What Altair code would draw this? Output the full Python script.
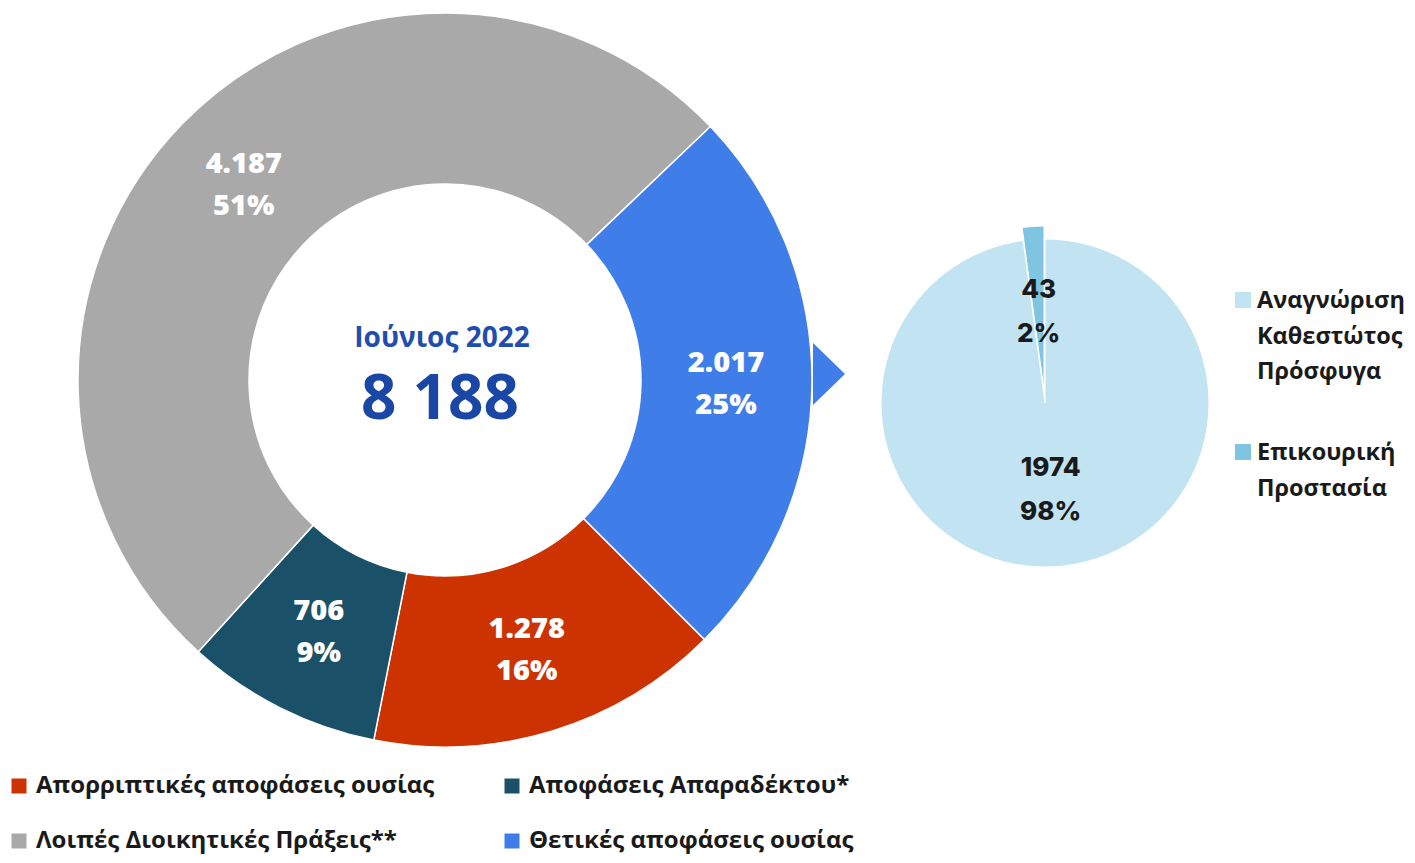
import math
import altair as alt
import pandas as pd

# ---------------- data ----------------
categories = ["Απορριπτικές αποφάσεις ουσίας", "Αποφάσεις Απαραδέκτου*",
              "Λοιπές Διοικητικές Πράξεις**", "Θετικές αποφάσεις ουσίας"]
values = [1278, 706, 4187, 2017]
value_labels = ["1.278", "706", "4.187", "2.017"]
pct_labels = ["16%", "9%", "51%", "25%"]
colors = ["#CC3300", "#1B5168", "#A9A9A9", "#3F7DE9"]

sub_categories = ["Αναγνώριση Καθεστώτος Πρόσφυγα", "Επικουρική Προστασία"]
sub_legend_labels = ["Αναγνώριση\nΚαθεστώτος\nΠρόσφυγα", "Επικουρική\nΠροστασία"]
sub_values = [1974, 43]
sub_value_labels = ["1974", "43"]
sub_pct_labels = ["98%", "2%"]
sub_colors = ["#C1E3F2", "#7FC4E1"]

center_title = ["Ιούνιος 2022"]
center_total = ["8 188"]

# ---------------- tables ----------------
main = pd.DataFrame({
    "cat": categories,
    "value": values,
    "label": [f"{v}\n{p}" for v, p in zip(value_labels, pct_labels)],
    "order": list(range(len(categories))),
})
sub = pd.DataFrame({
    "cat": sub_categories,
    "value": sub_values,
    "label": [f"{v}\n{p}" for v, p in zip(sub_value_labels, sub_pct_labels)],
    "legend": sub_legend_labels,
    "order": list(range(len(sub_categories))),
})

# legend is filled column by column: reorder so rows read red/teal, grey/blue
legend_order = [0, 2, 1, 3]
legend_domain = [categories[i] for i in legend_order]
legend_range = [colors[i] for i in legend_order]

start = math.radians(135)
theta_main = alt.Theta("value:Q", stack=True,
                       scale=alt.Scale(range=[start, start + 2 * math.pi]))
order_enc = alt.Order("order:Q")

CX, CY = 437, 372

donut_arc = alt.Chart(main).mark_arc(
    outerRadius=367, innerRadius=196, stroke="white", strokeWidth=1.5
).encode(
    theta=theta_main,
    order=order_enc,
    color=alt.Color(
        "cat:N",
        scale=alt.Scale(domain=legend_domain, range=legend_range),
        legend=alt.Legend(
            title=None, orient="none", legendX=-1, legendY=766, columns=2,
            symbolType="square", symbolSize=225, symbolStrokeWidth=0,
            labelFont="Open Sans", labelFontSize=24, labelFontWeight="bold",
            labelColor="#1a1a1a", columnPadding=65, rowPadding=31,
            labelOffset=5, labelLimit=800, padding=0,
        ),
    ),
    x=alt.value(CX), y=alt.value(CY),
)

donut_text = alt.Chart(main).mark_text(
    radius=281, font="Open Sans", fontSize=29, fontWeight=800,
    color="white", lineBreak="\n", lineHeight=42, baseline="middle", dy=-20,
).encode(
    theta=theta_main, order=order_enc, text="label:N",
    x=alt.value(CX), y=alt.value(CY),
)

donut = alt.layer(donut_arc, donut_text)

title_text = alt.Chart(pd.DataFrame({"t": center_title})).mark_text(
    font="Open Sans", fontSize=28, fontWeight="bold", color="#1F4EAF",
    baseline="middle",
).encode(text="t:N", x=alt.value(434), y=alt.value(331))

total_text = alt.Chart(pd.DataFrame({"t": center_total})).mark_text(
    font="Open Sans", fontSize=62, fontWeight="bold", color="#1A47A6",
    baseline="middle",
).encode(text="t:N", x=alt.value(432), y=alt.value(392))

arrow = alt.Chart(pd.DataFrame({"a": [0]})).mark_point(
    shape="M0,-1L1.032,0L0,1Z", size=3844, filled=True,
    color="#3F7DE9", opacity=1, strokeWidth=0,
).encode(x=alt.value(805), y=alt.value(366))

# ---------------- pie ----------------
theta_sub = alt.Theta("value:Q", stack=True)
sub_color = alt.Color("cat:N", scale=alt.Scale(domain=sub_categories, range=sub_colors), legend=None)
PX, PY = 1037, 395
EX, EY = 1036, 382

pie_big = alt.Chart(sub).mark_arc(outerRadius=164, stroke="white", strokeWidth=1).encode(
    theta=theta_sub, order=order_enc, color=sub_color,
    opacity=alt.condition(alt.datum.order == 0, alt.value(1), alt.value(0)),
    x=alt.value(PX), y=alt.value(PY),
)
pie_small = alt.Chart(sub).mark_arc(outerRadius=164, stroke="white", strokeWidth=1).encode(
    theta=theta_sub, order=order_enc, color=sub_color,
    opacity=alt.condition(alt.datum.order == 1, alt.value(1), alt.value(0)),
    x=alt.value(EX), y=alt.value(EY),
)
pie_text_big = alt.Chart(sub).mark_text(
    radius=85, font="Inter", fontSize=26, fontWeight=800, color="#1a1a1a",
    lineBreak="\n", lineHeight=44, baseline="middle", dy=-20,
).encode(
    theta=theta_sub, order=order_enc, text="label:N",
    opacity=alt.condition(alt.datum.order == 0, alt.value(1), alt.value(0)),
    x=alt.value(PX), y=alt.value(PY),
)
pie_text_small = alt.Chart(sub).mark_text(
    radius=80, font="Inter", fontSize=26, fontWeight=800, color="#1a1a1a",
    lineBreak="\n", lineHeight=44, baseline="middle", dy=-20,
).encode(
    theta=theta_sub, order=order_enc, text="label:N",
    opacity=alt.condition(alt.datum.order == 1, alt.value(1), alt.value(0)),
    x=alt.value(EX), y=alt.value(EY),
)
pie = alt.layer(pie_big, pie_small, pie_text_big, pie_text_small)

# ---------------- right legend ----------------
leg_y = alt.Y("cat:N", scale=alt.Scale(type="point", domain=sub_categories,
                                       range=[292, 444], padding=0), axis=None)
leg_sq = alt.Chart(sub).mark_square(size=256, opacity=1, strokeWidth=0).encode(
    x=alt.value(1235), y=leg_y, color=sub_color,
)
leg_txt = alt.Chart(sub).mark_text(
    align="left", baseline="top", dy=-11, font="Open Sans", fontSize=23.5,
    fontWeight="bold", color="#1a1a1a", lineBreak="\n", lineHeight=35.5,
).encode(x=alt.value(1249), y=leg_y, text="legend:N")
right_legend = alt.layer(leg_sq, leg_txt)

chart = alt.layer(
    donut, title_text, total_text, arrow, pie, right_legend
).resolve_scale(
    theta="independent", color="independent", y="independent", x="independent"
).properties(
    width=1399, height=847, padding=0,
    autosize=alt.AutoSizeParams(type="none"),
).configure_view(stroke=None)

chart.save("out.html", embed_options={"renderer": "svg", "actions": False})
